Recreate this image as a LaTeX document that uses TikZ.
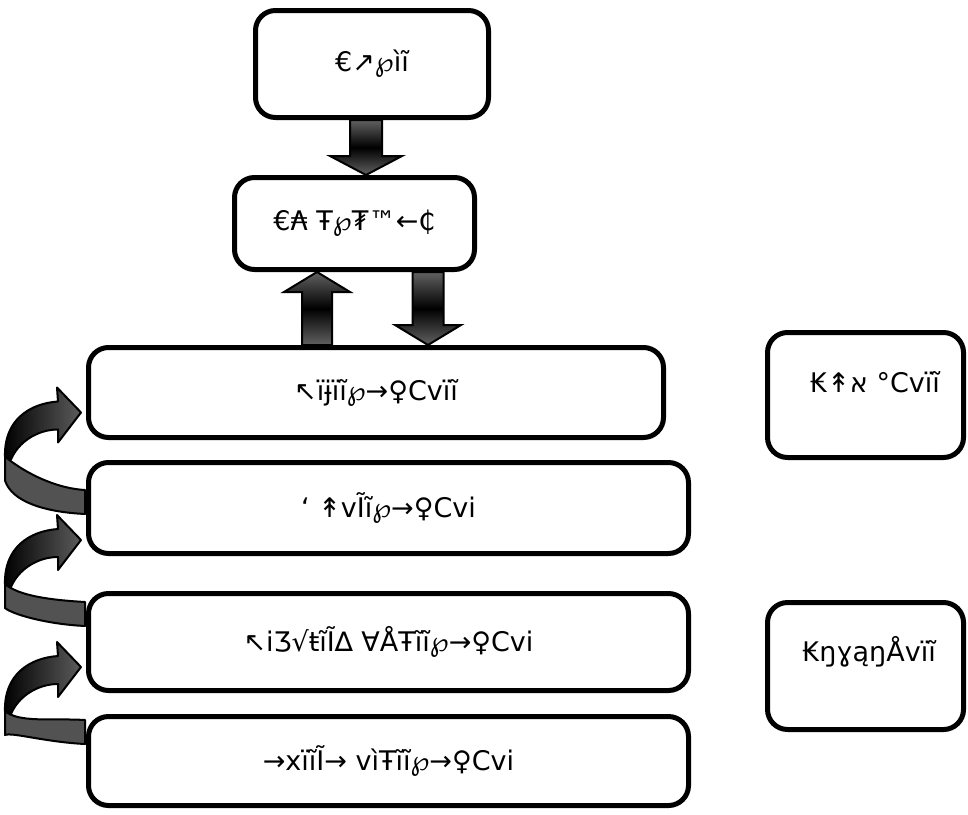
\documentclass[tikz,border=0pt]{standalone}
\usepackage{fontspec}
\setmainfont{DejaVu Sans}
\usetikzlibrary{calc}
\tikzset{
  box/.style={draw=black, line width=5pt, rounded corners=20pt, fill=white,
    inner sep=0pt, font=\fontsize{27}{30}\selectfont},
  lbl/.style={inner sep=0pt, font=\fontsize{27}{30}\selectfont},
  blockarrow/.style={draw=black, line width=2pt, line join=miter,
    top color=black!62, bottom color=black!62, middle color=black},
  ribbondark/.style={draw=black, line width=2pt, line join=round,
    left color=black, right color=black!64},
  ribbonpale/.style={draw=black, line width=2pt, line join=round, fill=black!68},
}
% curved return arrow: #1 = tip coordinate, #2 = tail coordinate (upper edge of tail)
\newcommand{\loopback}[2]{%
  \path[ribbonpale] ($(#1)+(-76,44)$)
    .. controls ($(#1)+(-62,56)$) and ($(#2)+(-34,-2)$) .. (#2)
    -- ($(#2)+(0,24)$)
    .. controls ($(#2)+(-40,22)$) and ($(#2)+(-73,12)$) .. ($(#1)+(-76,68)$)
    -- cycle;
  \path[ribbondark] ($(#1)+(-76,44)$)
    .. controls ($(#1)+(-77,8)$) and ($(#1)+(-52,-9)$) .. ($(#1)+(-23,-11)$)
    -- ($(#1)+(-24,-25)$) -- (#1) -- ($(#1)+(-23,30)$) -- ($(#1)+(-23,17)$)
    .. controls ($(#1)+(-44,17)$) and ($(#1)+(-63,30)$) .. ($(#1)+(-70,47)$)
    -- cycle;
}
\begin{document}
\begin{tikzpicture}[x=1pt,y=-1pt]
\useasboundingbox (0,0) rectangle (968,814);

% placeholders giving the anchors of the upper boxes for the connectors
\coordinate (pa) at (372,64);
\coordinate (pb) at (354.5,223.5);
\coordinate (pc) at (376,392.5);
\path (pa) node[box, minimum width=233pt, minimum height=107pt, draw=none, fill=none] (a0) {};
\path (pb) node[box, minimum width=240pt, minimum height=92pt, draw=none, fill=none] (b0) {};
\path (pc) node[box, minimum width=575pt, minimum height=90pt, draw=none, fill=none] (c0) {};

% down arrow between the two upper boxes
\coordinate (ab0) at ($(a0.south)+(-6,0)$);
\coordinate (ab1) at (ab0 |- b0.north);
\path[blockarrow] ($(ab0)+(-16,0)$) -- ($(ab1)+(-16,-19)$) -- ($(ab1)+(-36,-19)$)
  -- (ab1) -- ($(ab1)+(36,-19)$) -- ($(ab1)+(16,-19)$) -- ($(ab0)+(16,0)$) -- cycle;

% up arrow
\coordinate (cb1) at ($(b0.south)+(-37.5,0)$);
\coordinate (cb0) at (cb1 |- c0.north);
\path[blockarrow] ($(cb0)+(-15,0)$) -- ($(cb1)+(-15,20)$) -- ($(cb1)+(-33,20)$)
  -- (cb1) -- ($(cb1)+(33,20)$) -- ($(cb1)+(15,20)$) -- ($(cb0)+(15,0)$) -- cycle;

% down arrow
\coordinate (bc0) at ($(b0.south)+(73.5,0)$);
\coordinate (bc1) at (bc0 |- c0.north);
\path[blockarrow] ($(bc0)+(-15.5,0)$) -- ($(bc1)+(-15.5,-20)$) -- ($(bc1)+(-33,-20)$)
  -- (bc1) -- ($(bc1)+(33,-20)$) -- ($(bc1)+(15.5,-20)$) -- ($(bc0)+(15.5,0)$) -- cycle;

% boxes
\node[box, minimum width=233pt, minimum height=107pt] (a) at (pa) {€↗℘ìĩ};
\node[box, minimum width=240pt, minimum height=92pt] (b) at (pb) {€₳ Ŧ℘₮™←₵};
\node[box, minimum width=575pt, minimum height=90pt] (c) at (pc) {↖ïɉïĩ℘→♀Cvïĩ};
\node[box, minimum width=600pt, minimum height=91pt] (d) at (388.5,508) {‘ ↟vĨĩ℘→♀Cvi};
\node[box, minimum width=600pt, minimum height=97pt] (e) at (388.5,642) {↖iƷ√ŧĩĨ∆ ∀ÅŦĩĩ℘→♀Cvi};
\node[box, minimum width=600pt, minimum height=89pt] (f) at (388.5,761) {→xïĩĨ→ vìŦĩĩ℘→♀Cvi};
\node[box, minimum width=196pt, minimum height=125pt] (g) at (865.5,395) {};
\node[box, minimum width=196pt, minimum height=127pt] (h) at (865.5,666) {};
\node[lbl] (gt) at (875,382) {₭↟\mbox{א} °Cvïĩ};
\node[lbl] (ht) at (869,652) {₭ŋɣąŋÅvïĩ};

% curved return arrows on the left
\coordinate (t1) at ($(c.west)+(-5,20)$);
\coordinate (s1) at ($(d.north west)+(-1,30)$);
\coordinate (t2) at ($(d.west)+(-5,32)$);
\coordinate (s2) at ($(e.north west)+(-1,11)$);
\coordinate (t3) at ($(e.west)+(-5,25)$);
\coordinate (s3) at ($(f.north west)+(-1,6)$);
\loopback{t1}{s1}
\loopback{t2}{s2}
\loopback{t3}{s3}
\end{tikzpicture}
\end{document}
